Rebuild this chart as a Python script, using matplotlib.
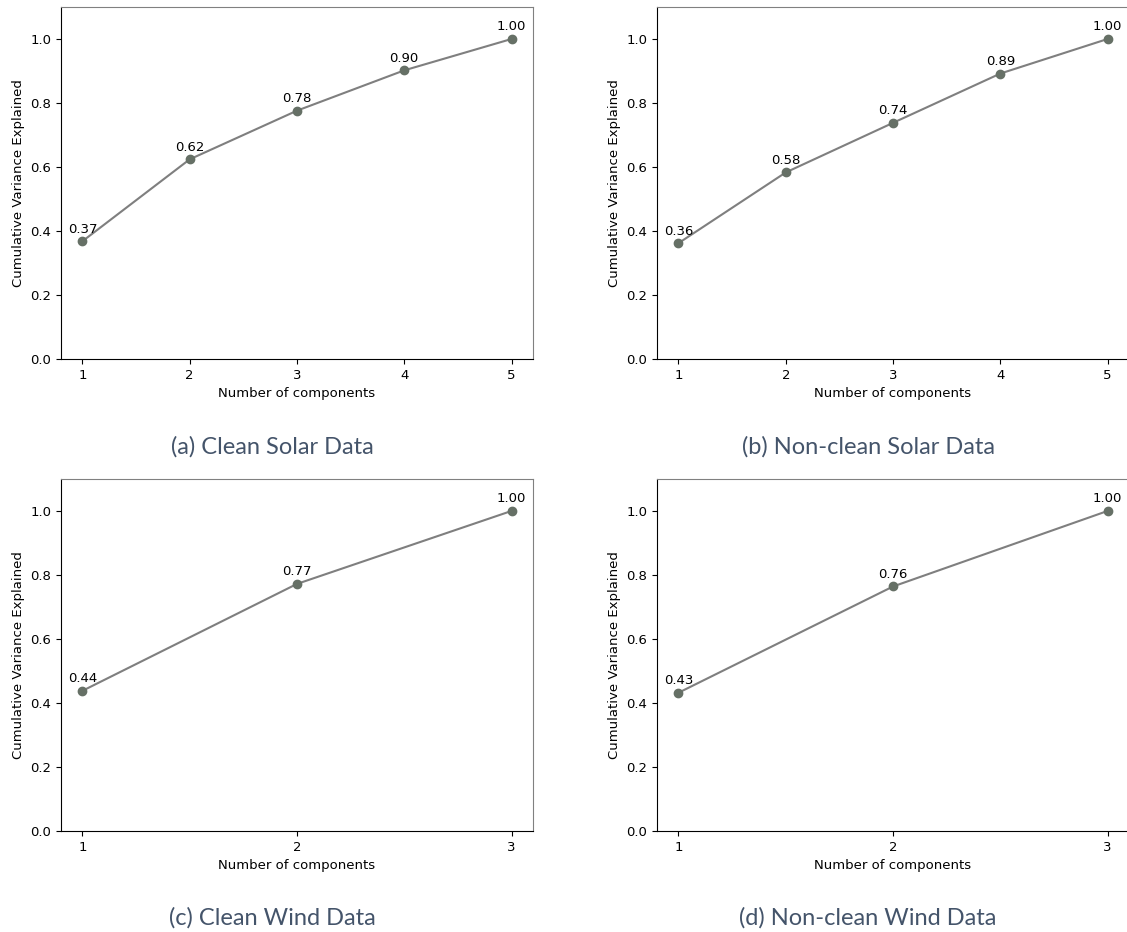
import matplotlib
matplotlib.use("Agg")
import matplotlib.pyplot as plt

# cumulative variance explained per panel
clean_solar = [0.368, 0.624, 0.776, 0.902, 1.0]
nonclean_solar = [0.362, 0.583, 0.738, 0.892, 1.0]
clean_wind = [0.438, 0.772, 1.0]
nonclean_wind = [0.432, 0.764, 1.0]

captions = ['(a) Clean Solar Data', '(b) Non-clean Solar Data',
            '(c) Clean Wind Data', '(d) Non-clean Wind Data']
series = [clean_solar, nonclean_solar, clean_wind, nonclean_wind]

line_col = '#7f7f7f'
dot_col = '#667066'
cap_col = '#44546a'

fig = plt.figure(figsize=(11.27, 9.32), dpi=100)

# axes boxes in figure fractions
lefts = [0.0541, 0.583, 0.0541, 0.583]
bottoms = [0.6148, 0.6148, 0.1084, 0.1084]
w, h = 0.4188, 0.3777
cap_y = [0.5204, 0.5204, 0.015, 0.015]

for i, vals in enumerate(series):
    ax = fig.add_axes([lefts[i], bottoms[i], w, h])
    x = list(range(1, len(vals) + 1))
    ax.plot(x, vals, color=line_col, lw=1.5, zorder=2)
    ax.plot(x, vals, 'o', color=dot_col, ms=6, zorder=3)
    for xi, v in zip(x, vals):
        ax.annotate('%.2f' % v, (xi, v), xytext=(0, 4), textcoords='offset points',
                    ha='center', va='bottom', fontsize=9.5)
    ax.set_ylim(0, 1.1)
    ax.set_xticks(x)
    ax.tick_params(labelsize=9.5)
    ax.set_xlabel('Number of components', fontsize=9.5)
    ax.set_ylabel('Cumulative Variance Explained', fontsize=9.5)
    ax.spines['top'].set_color('#808080')
    ax.spines['right'].set_color('#808080')
    fig.text(lefts[i] + 0.2414 - 0.0541, cap_y[i], captions[i], ha='center', va='center',
             fontsize=17, color=cap_col, family='Lato')

fig.savefig('out.png', dpi=100)
